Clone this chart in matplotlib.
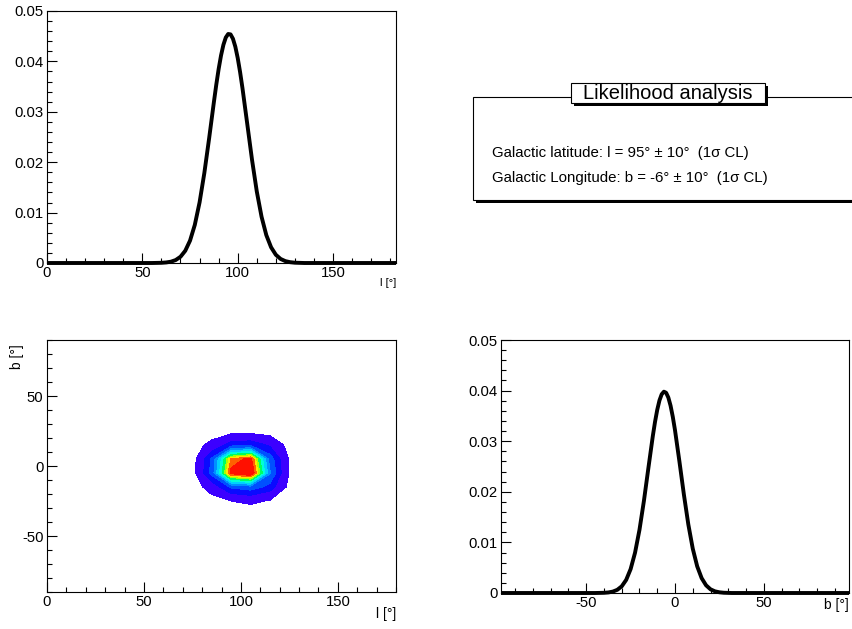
import numpy as np
import matplotlib
matplotlib.use('Agg')
import matplotlib.pyplot as plt
from matplotlib.patches import Rectangle
from matplotlib.ticker import MultipleLocator, FuncFormatter

plt.rcParams['font.family'] = ['Liberation Sans', 'DejaVu Sans']
plt.rcParams['axes.unicode_minus'] = False

# Galactic l profile
l_deg = [0, 55, 60, 62.5, 65, 67.5, 70, 72.5, 75, 77.5, 80, 82.5, 85, 87.5,
         88.75, 90, 91.25, 92.5, 93.75, 95, 96.25, 97.5, 98.75, 100, 101.25,
         102.5, 105, 107.5, 110, 112.5, 115, 117.5, 120, 122.5, 125, 127.5,
         130, 135, 183]
l_prob = [0, 0, 0.00004, 0.00011, 0.00026, 0.00059, 0.00124, 0.00243, 0.00444,
          0.00756, 0.01202, 0.01785, 0.0247, 0.0319, 0.03535, 0.03848, 0.04117,
          0.04329, 0.04474, 0.04544, 0.04536, 0.0445, 0.04292, 0.04067, 0.03788,
          0.03468, 0.0276, 0.02049, 0.0142, 0.00918, 0.00553, 0.00312, 0.00163,
          0.0008, 0.00037, 0.00016, 0.00006, 0, 0]

# Galactic b profile
b_deg = [-98, -45, -40, -37.5, -35, -32.5, -30, -27.5, -25, -22.5, -20, -17.5,
         -15, -12.5, -11.25, -10, -8.75, -7.5, -6.25, -5, -3.75, -2.5, -1.25,
         0, 2.5, 5, 7.5, 10, 12.5, 15, 17.5, 20, 22.5, 25, 27.5, 32, 98]
b_prob = [0, 0, 0.00004, 0.00011, 0.00028, 0.00063, 0.00132, 0.00259, 0.00472,
          0.00797, 0.0125, 0.01822, 0.02467, 0.03101, 0.03382, 0.03621, 0.03806,
          0.03927, 0.03979, 0.03957, 0.03863, 0.03702, 0.03483, 0.03218,
          0.02597, 0.01947, 0.01356, 0.00877, 0.00527, 0.00294, 0.00152,
          0.00073, 0.00033, 0.00014, 0.00005, 0, 0]

# 2D likelihood map (relative), rows = b, columns = l
map_l = [65, 75, 85, 95, 105, 115, 125, 135]
map_b = [-35, -25, -15, -5, 5, 15, 25, 35]
map_z = [
    [0, 0,    0,    0.01, 0.01, 0.01, 0,    0],
    [0, 0.01, 0.05, 0.10, 0.13, 0.09, 0.02, 0],
    [0, 0.03, 0.16, 0.36, 0.40, 0.30, 0.06, 0],
    [0, 0.04, 0.38, 0.93, 1.00, 0.45, 0.09, 0],
    [0, 0.04, 0.36, 0.85, 0.93, 0.40, 0.09, 0],
    [0, 0.04, 0.14, 0.30, 0.32, 0.22, 0.05, 0],
    [0, 0.01, 0.03, 0.05, 0.05, 0.04, 0.01, 0],
    [0, 0,    0,    0,    0,    0,    0,    0],
]

fig = plt.figure(figsize=(8.52, 6.29), dpi=100)
W, H = 852.0, 629.0


def px_axes(x0, y0, x1, y1):
    return fig.add_axes([x0 / W, 1 - y1 / H, (x1 - x0) / W, (y1 - y0) / H])


def root_style(ax):
    ax.tick_params(which='both', direction='in', top=False, right=False,
                   labelsize=10.7, pad=2.5, width=0.8)
    ax.tick_params(which='major', length=7)
    ax.tick_params(which='minor', length=3.5)
    for s in ax.spines.values():
        s.set_linewidth(0.8)


yfmt = FuncFormatter(lambda v, _: '0' if abs(v) < 1e-9 else '%.2f' % v)

# top left: l profile
ax1 = px_axes(47, 11, 396, 263)
ax1.plot(l_deg, l_prob, color='k', lw=2.8, clip_on=False,
         solid_capstyle='butt', solid_joinstyle='round')
ax1.set_xlim(0, 183)
ax1.set_ylim(0, 0.05)
ax1.xaxis.set_major_locator(MultipleLocator(50))
ax1.xaxis.set_minor_locator(MultipleLocator(10))
ax1.yaxis.set_major_locator(MultipleLocator(0.01))
ax1.yaxis.set_minor_locator(MultipleLocator(0.002))
ax1.yaxis.set_major_formatter(yfmt)
root_style(ax1)
ax1.set_xlabel('l [°]', loc='right', fontsize=8)
ax1.xaxis.set_label_coords(1.0, -0.058)

# bottom left: 2D contour
ax2 = px_axes(47, 340, 396, 592)
lev = [0.10, 0.24, 0.34, 0.44, 0.52, 0.60, 0.67, 0.74, 0.79, 0.84, 0.90, 1.01]
cols = ['#3c00ff', '#0a0aff', '#0050ff', '#0090ff', '#00d0ff', '#00ffd8',
        '#00ff60', '#a8ff00', '#ffe800', '#ff6000', '#ff1000']
ax2.contourf(map_l, map_b, map_z, levels=lev, colors=cols)
ax2.set_xlim(0, 180)
ax2.set_ylim(-90, 90)
ax2.xaxis.set_major_locator(MultipleLocator(50))
ax2.xaxis.set_minor_locator(MultipleLocator(10))
ax2.yaxis.set_major_locator(MultipleLocator(50))
ax2.yaxis.set_minor_locator(MultipleLocator(10))
root_style(ax2)
ax2.set_xlabel('l [°]', loc='right', fontsize=10)
ax2.xaxis.set_label_coords(1.0, -0.06)
ax2.set_ylabel('b [°]', loc='top', fontsize=10)
ax2.yaxis.set_label_coords(-0.065, 0.985)

# bottom right: b profile
ax3 = px_axes(501, 340, 849, 593)
ax3.plot(b_deg, b_prob, color='k', lw=2.8, clip_on=False,
         solid_capstyle='butt', solid_joinstyle='round')
ax3.set_xlim(-98, 98)
ax3.set_ylim(0, 0.05)
ax3.xaxis.set_major_locator(MultipleLocator(50))
ax3.xaxis.set_minor_locator(MultipleLocator(10))
ax3.yaxis.set_major_locator(MultipleLocator(0.01))
ax3.yaxis.set_minor_locator(MultipleLocator(0.002))
ax3.yaxis.set_major_formatter(yfmt)
root_style(ax3)
ax3.set_xlabel('b [°]', loc='right', fontsize=10)
ax3.xaxis.set_label_coords(1.0, -0.02)


# likelihood text box (ROOT pave with shadow)
def box(x0, y0, x1, y1, sh):
    fig.add_artist(Rectangle(((x0 + sh) / W, 1 - (y1 + sh) / H), (x1 - x0) / W,
                             (y1 - y0) / H, transform=fig.transFigure,
                             facecolor='k', edgecolor='k', lw=0))
    fig.add_artist(Rectangle((x0 / W, 1 - y1 / H), (x1 - x0) / W, (y1 - y0) / H,
                             transform=fig.transFigure, facecolor='white',
                             edgecolor='k', lw=0.8))


box(473, 97, 870, 200, 3)
box(571, 83, 765, 103, 2.5)
fig.text(668 / W, 1 - 93.5 / H, 'Likelihood analysis', ha='center', va='center',
         fontsize=14.5)
fig.text(492 / W, 1 - 153 / H, 'Galactic latitude: l = 95° ± 10°  (1σ CL)',
         ha='left', va='center', fontsize=10.8)
fig.text(492 / W, 1 - 178 / H, 'Galactic Longitude: b = -6° ± 10°  (1σ CL)',
         ha='left', va='center', fontsize=10.8)

fig.savefig('out.png', dpi=100)
